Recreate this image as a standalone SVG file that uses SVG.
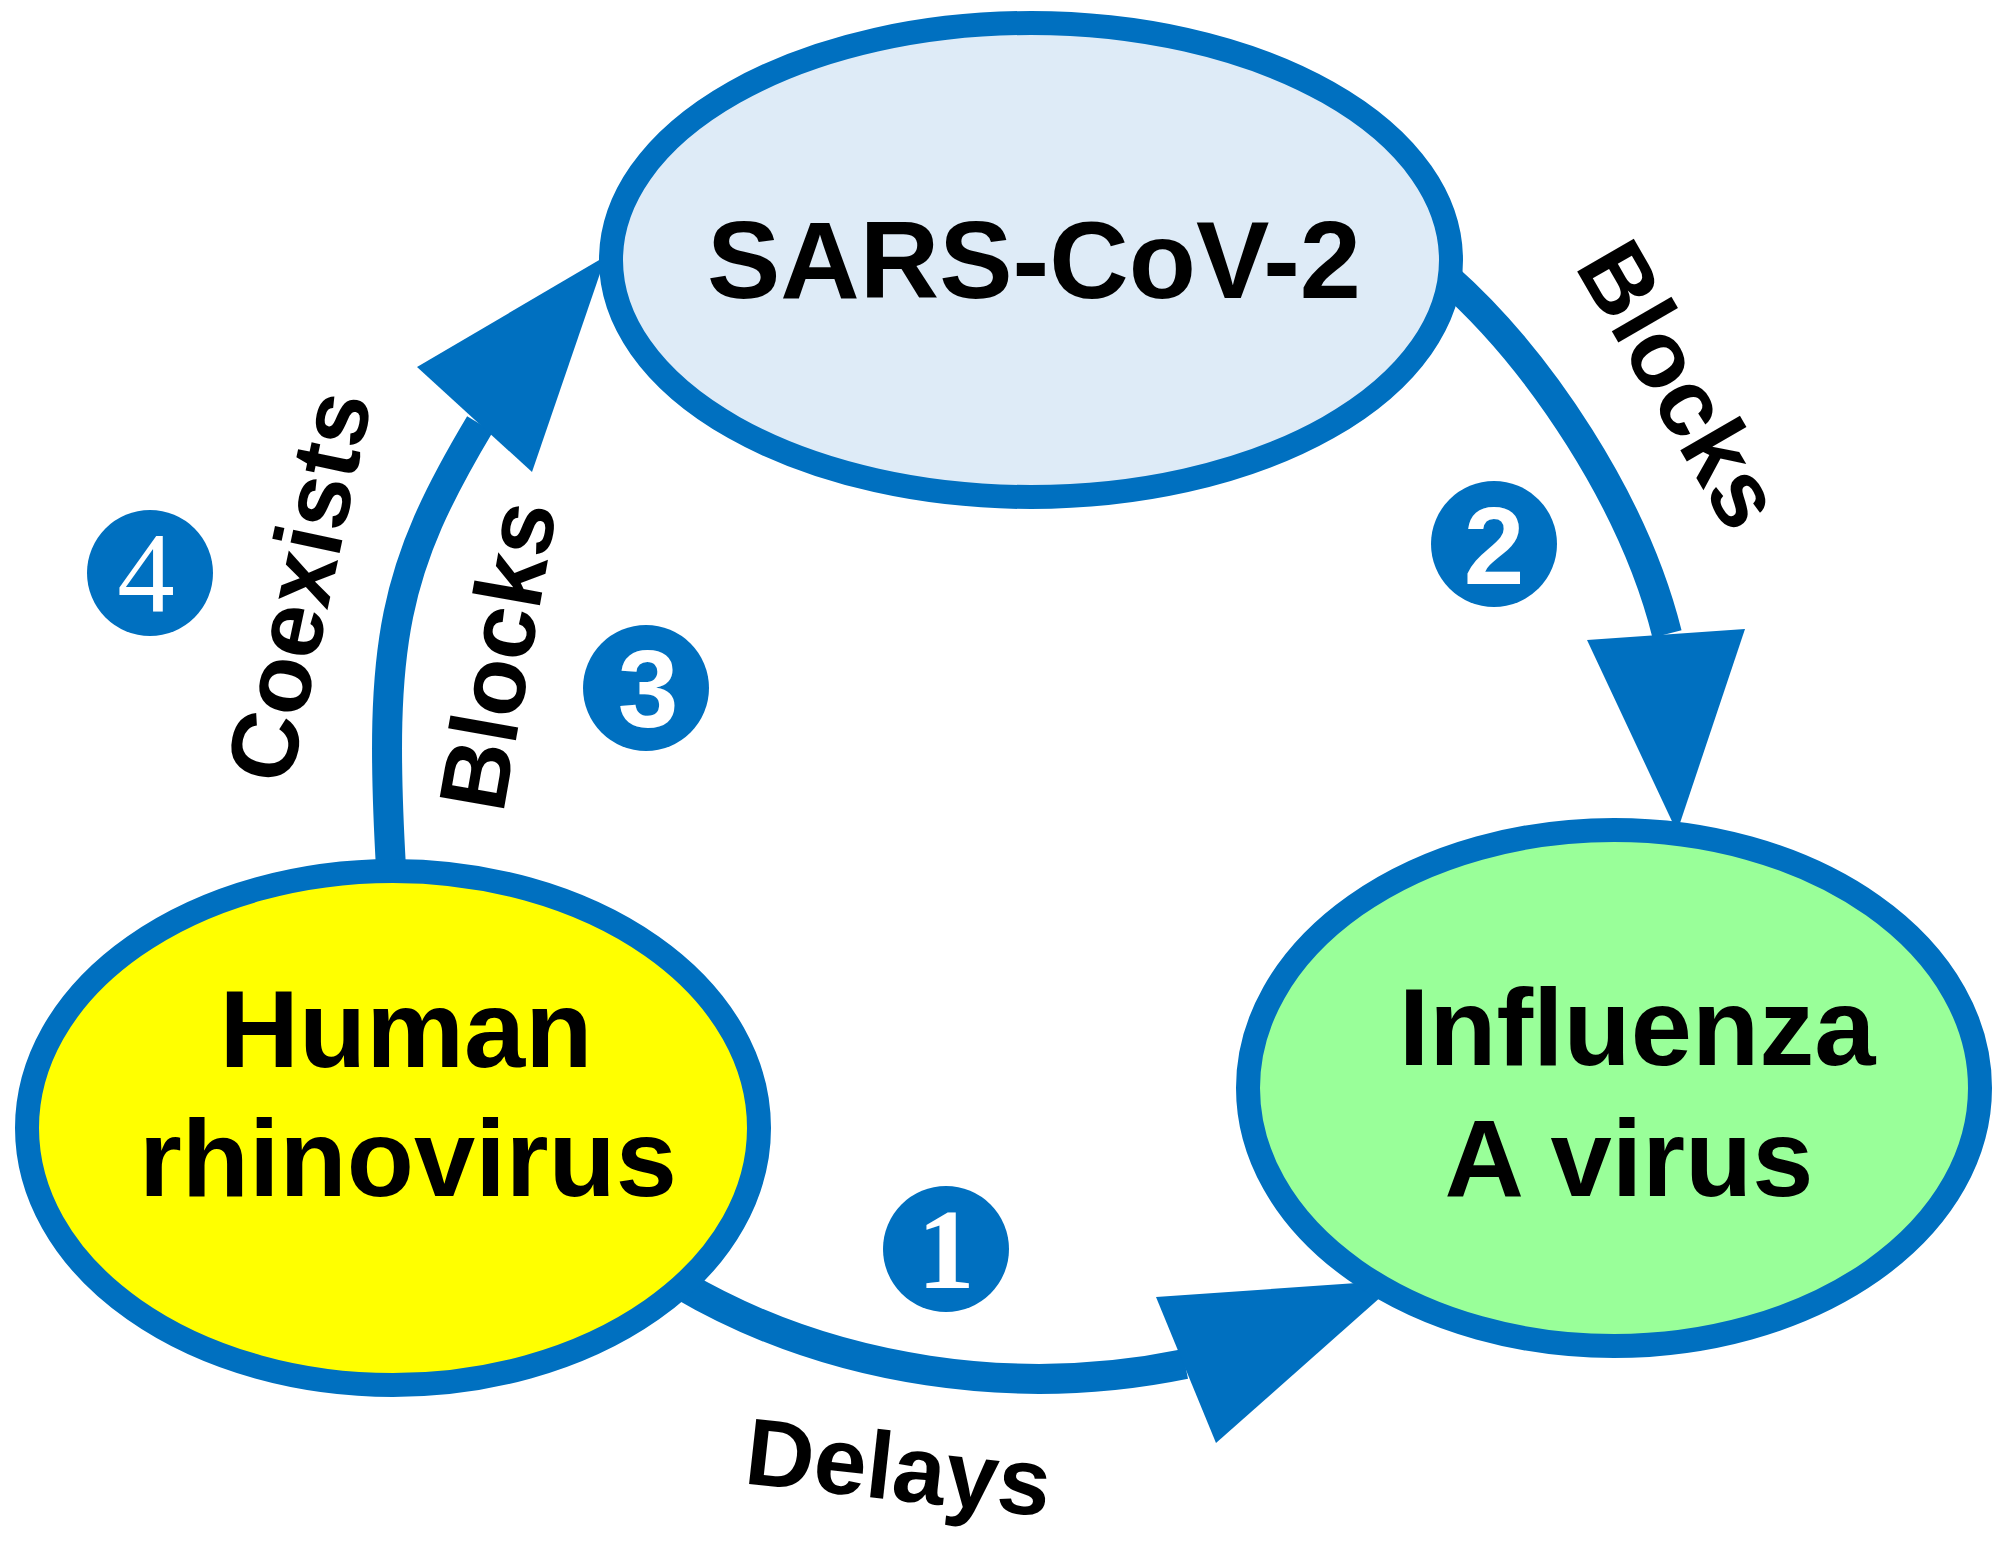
<svg xmlns="http://www.w3.org/2000/svg" width="2016" height="1544" viewBox="0 0 2016 1544">
<style>
.node{stroke:#0070C0;stroke-width:24}
.shaft{fill:none;stroke:#0070C0;stroke-width:30}
.head{fill:#0070C0}
.title{font-family:"Liberation Sans",Arial,sans-serif;font-weight:bold;font-size:110px;fill:#000;text-anchor:middle}
.lbl{font-family:"Liberation Sans",Arial,sans-serif;font-weight:bold;font-size:95px;fill:#000;text-anchor:middle}
.badge{fill:#0070C0}
.num{font-family:"Liberation Sans",Arial,sans-serif;font-weight:bold;font-size:109px;fill:#fff;text-anchor:middle}
.numserif{font-family:"Liberation Serif","Times New Roman",serif;font-size:115px;fill:#fff;text-anchor:middle}
</style>
<rect width="2016" height="1544" fill="#fff"/>
<g id="connectors">
  <g id="edge-delays">
    <path class="shaft" d="M680,1284 C833,1374 1020,1398 1185,1364"/>
    <polygon class="head" points="1156,1297 1216,1443 1400,1280"/>
    <text class="lbl" transform="translate(895,1500) rotate(6.3)">Delays</text>
  </g>
  <g id="edge-blocks-sars-flu">
    <path class="shaft" d="M1445,276 C1540,360 1634,502 1667,634"/>
    <polygon class="head" points="1587,640 1745,629 1677,832"/>
    <text class="lbl" transform="translate(1652,401) rotate(60)">Blocks</text>
  </g>
  <g id="edge-blocks-hrv-sars">
    <path class="shaft" d="M391,868 C378,640 394,568 480,424"/>
    <polygon class="head" points="417,367 532,472 606,256"/>
    <text class="lbl" transform="translate(530,661) rotate(-80)">Blocks</text>
    <text class="lbl" transform="translate(331,593) rotate(-78)">Coexists</text>
  </g>
</g>
<g id="node-sars">
  <ellipse class="node" cx="1031" cy="260" rx="420" ry="237" fill="#DEEBF7"/>
  <text class="title" x="1034" y="298">SARS-CoV-2</text>
</g>
<g id="node-hrv">
  <ellipse class="node" cx="393" cy="1128" rx="366" ry="257" fill="#FFFF00"/>
  <text class="title" x="406" y="1067">Human</text>
  <text class="title" x="408" y="1196">rhinovirus</text>
</g>
<g id="node-iav">
  <ellipse class="node" cx="1614" cy="1088" rx="366" ry="258" fill="#99FF99"/>
  <text class="title" x="1637" y="1065">Influenza</text>
  <text class="title" x="1629" y="1196">A virus</text>
</g>
<g id="badge-1">
  <circle class="badge" cx="946" cy="1249" r="63"/>
  <text class="numserif" x="946" y="1288" font-weight="bold">1</text>
</g>
<g id="badge-2">
  <circle class="badge" cx="1494" cy="544" r="63"/>
  <text class="num" x="1494" y="584">2</text>
</g>
<g id="badge-3">
  <circle class="badge" cx="646" cy="688" r="63"/>
  <text class="num" x="648" y="727">3</text>
</g>
<g id="badge-4">
  <circle class="badge" cx="150" cy="573" r="63"/>
  <text class="numserif" x="146" y="612">4</text>
</g>
</svg>
